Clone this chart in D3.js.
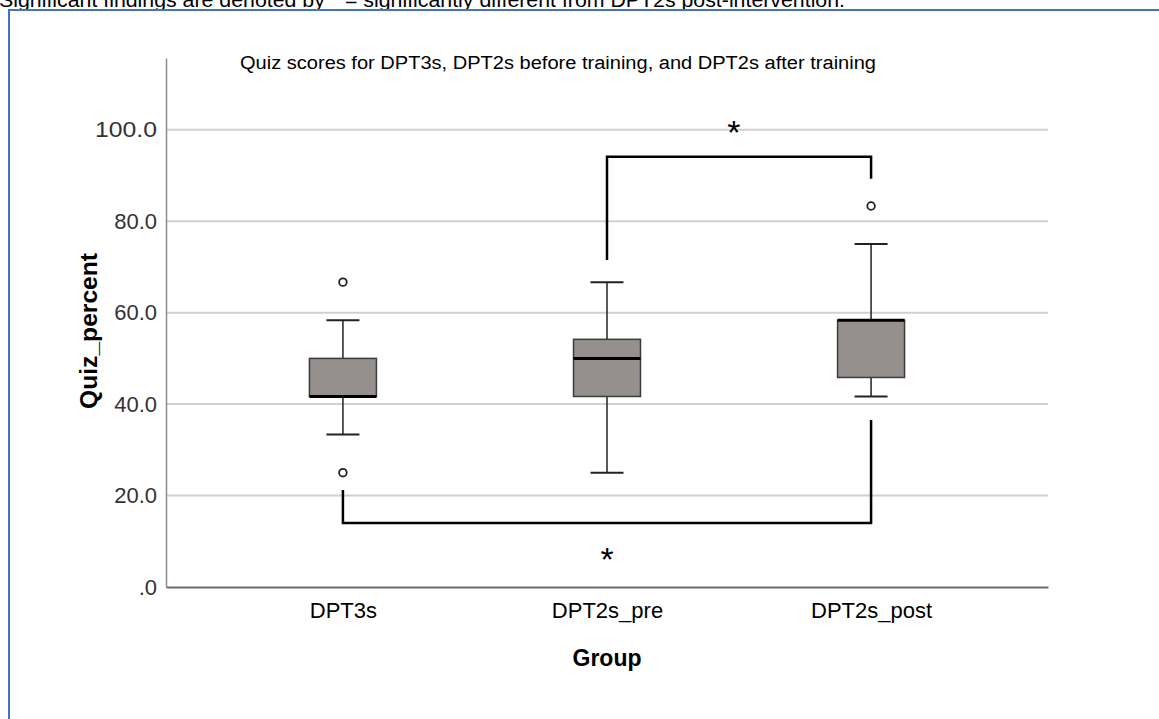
<!DOCTYPE html>
<html>
<head>
<meta charset="utf-8">
<script src="https://cdn.jsdelivr.net/npm/d3@7"></script>
<style>
  body { margin: 0; background: #fff; overflow: hidden; }
  text { font-family: "Liberation Sans", Arial, sans-serif; }
</style>
</head>
<body>
<div class="boxplot"></div>
<script>
// Data
var groups = ['DPT3s', 'DPT2s_pre', 'DPT2s_post'];
var whiskerLow  = [33.33, 25.00, 41.67];
var q1Values    = [41.67, 41.67, 45.83];
var medians     = [41.67, 50.00, 58.33];
var q3Values    = [50.00, 54.17, 58.33];
var whiskerHigh = [58.33, 66.67, 75.00];
var outliers    = [['DPT3s', 66.67], ['DPT3s', 25.00], ['DPT2s_post', 83.33]];
var yTicks      = [0, 20, 40, 60, 80, 100];

// significance brackets: from group, to group, leg ends, bar level
var brackets = [
    { from: 'DPT2s_pre', to: 'DPT2s_post', fromEnd: 71.5, toEnd: 89.3, level: 94.1, star: 'DPT2s_pre', starAt: 96.8, starShift: 0.48 },
    { from: 'DPT3s', to: 'DPT2s_post', fromEnd: 21.2, toEnd: 36.5, level: 14.0, star: 'DPT2s_pre', starAt: 3.4, starShift: 0 }
];

var width = 1159, height = 719;
var margin = { top: 58, bottom: 132, left: 166, right: 111 };

var svg = d3.select('.boxplot').append('svg')
    .attr('width', width)
    .attr('height', height);

// note text at the very top (clipped by the page edge, as in the source)
svg.append('text')
    .attr('x', -1)
    .attr('y', 7)
    .attr('font-size', 21)
    .attr('textLength', 846)
    .attr('lengthAdjust', 'spacingAndGlyphs')
    .attr('fill', '#000')
    .text('Significant findings are denoted by * = significantly different from DPT2s post-intervention.');

// blue frame
svg.append('rect')
    .attr('x', 9)
    .attr('y', 10)
    .attr('width', 1200)
    .attr('height', 800)
    .attr('fill', 'none')
    .attr('stroke', '#4472c4')
    .attr('stroke-width', 2);

var x = d3.scalePoint()
    .domain(groups)
    .range([margin.left, width - margin.right])
    .padding(0.67);

var y = d3.scaleLinear()
    .domain([0, 115.7])
    .range([height - margin.bottom, margin.top]);

// grid lines
svg.append('g')
    .selectAll('line')
    .data(yTicks.filter(d => d > 0))
    .enter().append('line')
    .attr('x1', margin.left)
    .attr('x2', width - margin.right)
    .attr('y1', d => y(d))
    .attr('y2', d => y(d))
    .attr('stroke', '#d0d0d0')
    .attr('stroke-width', 2);

// y axis
var yAxis = svg.append('g')
    .attr('transform', 'translate(' + margin.left + ',0)')
    .call(d3.axisLeft(y).tickValues(yTicks).tickSize(0).tickPadding(9)
        .tickFormat(d => d === 0 ? '.0' : d3.format('.1f')(d)));
yAxis.select('.domain').attr('stroke', '#8c8c8c').attr('stroke-width', 1.5);
yAxis.selectAll('text')
    .attr('font-size', 22)
    .attr('fill', '#333')
    .attr('font-family', '"Liberation Sans", Arial, sans-serif');
yAxis.selectAll('.tick text')
    .filter(d => d === 100)
    .attr('textLength', 62)
    .attr('lengthAdjust', 'spacingAndGlyphs');

// x axis
var xAxis = svg.append('g')
    .attr('transform', 'translate(0,' + y(0) + ')')
    .call(d3.axisBottom(x).tickSize(0).tickPadding(15));
xAxis.select('.domain').attr('stroke', '#6c6c6c').attr('stroke-width', 2);
xAxis.selectAll('text')
    .attr('font-size', 22)
    .attr('fill', '#000')
    .attr('font-family', '"Liberation Sans", Arial, sans-serif');

// title
svg.append('text')
    .attr('x', 558)
    .attr('y', 69)
    .attr('text-anchor', 'middle')
    .attr('font-size', 18)
    .attr('textLength', 636)
    .attr('lengthAdjust', 'spacingAndGlyphs')
    .text('Quiz scores for DPT3s, DPT2s before training, and DPT2s after training');

// axis titles
svg.append('text')
    .attr('x', x('DPT2s_pre'))
    .attr('y', 666)
    .attr('text-anchor', 'middle')
    .attr('font-size', 23)
    .attr('font-weight', 'bold')
    .text('Group');

svg.append('text')
    .attr('transform', 'translate(97,' + y(56) + ') rotate(-90)')
    .attr('text-anchor', 'middle')
    .attr('font-size', 24)
    .attr('font-weight', 'bold')
    .attr('textLength', 156)
    .attr('lengthAdjust', 'spacingAndGlyphs')
    .text('Quiz_percent');

// boxes
var boxWidth = 67, capWidth = 33;
var boxes = svg.append('g').selectAll('g')
    .data(groups)
    .enter().append('g');

boxes.append('line')
    .attr('x1', d => x(d)).attr('x2', d => x(d))
    .attr('y1', (d, i) => y(whiskerLow[i]))
    .attr('y2', (d, i) => y(whiskerHigh[i]))
    .attr('stroke', '#222').attr('stroke-width', 1.5);

boxes.selectAll('.cap')
    .data((d, i) => [[d, whiskerLow[i]], [d, whiskerHigh[i]]])
    .enter().append('line')
    .attr('class', 'cap')
    .attr('x1', d => x(d[0]) - capWidth / 2)
    .attr('x2', d => x(d[0]) + capWidth / 2)
    .attr('y1', d => y(d[1]))
    .attr('y2', d => y(d[1]))
    .attr('stroke', '#222').attr('stroke-width', 2);

boxes.append('rect')
    .attr('x', d => x(d) - boxWidth / 2)
    .attr('y', (d, i) => y(q3Values[i]))
    .attr('width', boxWidth)
    .attr('height', (d, i) => y(q1Values[i]) - y(q3Values[i]))
    .attr('fill', '#958f8d')
    .attr('stroke', '#3c3c3c')
    .attr('stroke-width', 1.5);

boxes.append('line')
    .attr('x1', d => x(d) - boxWidth / 2)
    .attr('x2', d => x(d) + boxWidth / 2)
    .attr('y1', (d, i) => y(medians[i]))
    .attr('y2', (d, i) => y(medians[i]))
    .attr('stroke', '#000').attr('stroke-width', 3);

// outliers
svg.append('g').selectAll('circle')
    .data(outliers)
    .enter().append('circle')
    .attr('cx', d => x(d[0]))
    .attr('cy', d => y(d[1]))
    .attr('r', 3.8)
    .attr('fill', '#fff')
    .attr('stroke', '#222')
    .attr('stroke-width', 1.8);

// significance brackets
var step = x.step();
brackets.forEach(function(b) {
    svg.append('path')
        .attr('d', 'M' + x(b.from) + ',' + y(b.fromEnd) +
            'V' + y(b.level) + 'H' + x(b.to) + 'V' + y(b.toEnd))
        .attr('fill', 'none')
        .attr('stroke', '#000')
        .attr('stroke-width', 2.5);
    svg.append('text')
        .attr('x', x(b.star) + b.starShift * step)
        .attr('y', y(b.starAt))
        .attr('text-anchor', 'middle')
        .attr('font-size', 34)
        .text('*');
});
</script>
</body>
</html>
